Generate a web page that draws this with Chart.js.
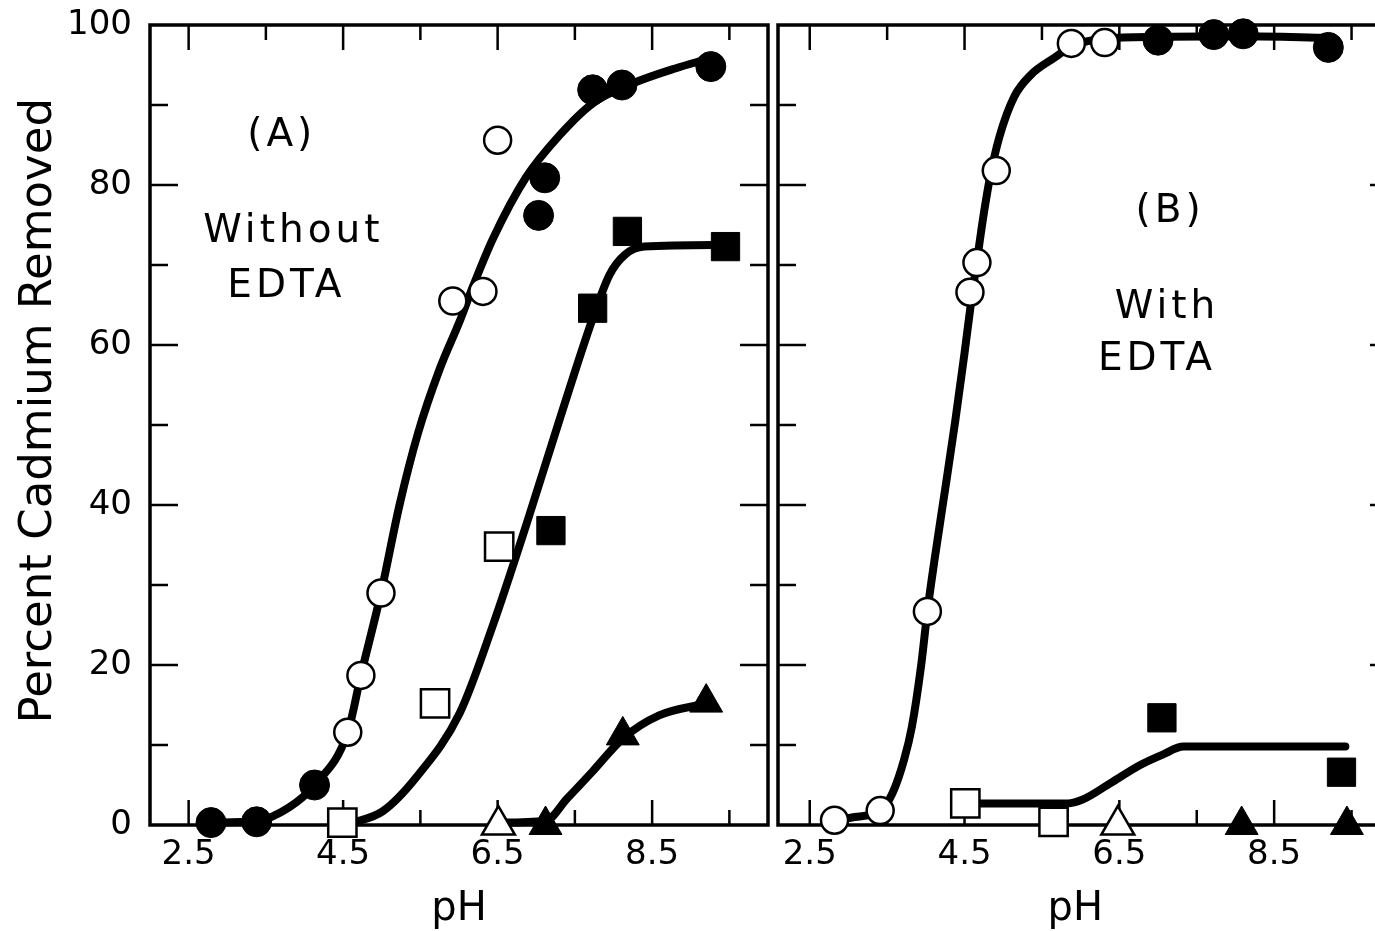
<!DOCTYPE html>
<html>
<head>
<meta charset="utf-8">
<title>Percent Cadmium Removed vs pH</title>
<script src="https://cdn.jsdelivr.net/npm/chart.js@4.4.1/dist/chart.umd.min.js"></script>
<style>
  html, body { margin: 0; padding: 0; background: #fff; overflow: hidden; }
  body { width: 1375px; height: 931px; position: relative; }
  canvas { position: absolute; top: 0; }
  #chartA { left: 0; }
  #chartB { left: 770px; }
</style>
</head>
<body>
<canvas id="chartA" width="775" height="931"></canvas>
<canvas id="chartB" width="640" height="931"></canvas>
<script>
// Axis ticks
const xTickLabels = [2.5, 4.5, 6.5, 8.5];
const xTickMarks = [2.5, 3.5, 4.5, 5.5, 6.5, 7.5, 8.5, 9.5];
const yTickLabels = [0, 20, 40, 60, 80, 100];
const yTickMarks = [10, 20, 30, 40, 50, 60, 70, 80, 90];

// Panel A - without EDTA (markers)
const phA_fillCircle = [2.79, 3.38, 4.13, 7.03, 7.11, 7.73, 8.11, 9.26];
const cdA_fillCircle = [0.3, 0.4, 5.0, 76.2, 80.9, 91.9, 92.5, 94.8];
const phA_openCircle = [4.56, 4.73, 4.99, 5.92, 6.31, 6.50];
const cdA_openCircle = [11.6, 18.7, 29.0, 65.5, 66.7, 85.6];
const phA_openSquare = [4.49, 5.69, 6.52];
const cdA_openSquare = [0.3, 15.2, 34.8];
const phA_fillSquare = [7.19, 7.73, 8.18, 9.45];
const cdA_fillSquare = [36.8, 64.6, 74.2, 72.3];
const phA_openTri = [6.51];
const cdA_openTri = [0];
const phA_fillTri = [7.12, 8.12, 9.20];
const cdA_fillTri = [0, 11.2, 15.3];

// Panel A - drawn curves
const phA_curve1 = [2.79, 3.38, 3.8, 4.13, 4.56, 4.73, 4.99, 5.23, 5.47, 5.75, 6.01, 6.18, 6.44, 6.87, 7.3, 7.73, 8.25, 8.81, 9.2];
const cdA_curve1 = [0.3, 0.5, 2.2, 5.0, 11.6, 18.7, 29.0, 40.0, 49.0, 57.0, 63.0, 67.3, 73.3, 81.0, 86.2, 90.2, 92.7, 94.6, 95.7];
const phA_curve2 = [4.6, 5.01, 5.45, 6.01, 6.44, 6.87, 7.28, 7.73, 7.95, 8.15, 8.4, 9.45];
const cdA_curve2 = [0.2, 1.7, 6.0, 14.0, 25.0, 37.5, 50.0, 63.3, 68.8, 71.3, 72.3, 72.5];
const phA_curve3 = [6.51, 7.12, 7.4, 7.73, 8.12, 8.59, 9.2];
const cdA_curve3 = [0.3, 0.5, 3.3, 6.7, 10.8, 13.7, 15.2];

// Panel B - with EDTA (markers)
const phB_openCircle = [2.82, 3.41, 4.02, 4.57, 4.66, 4.91, 5.88, 6.31];
const cdB_openCircle = [0.6, 1.8, 26.7, 66.6, 70.3, 81.8, 97.7, 97.8];
const phB_fillCircle = [7.0, 7.72, 8.1, 9.2];
const cdB_fillCircle = [98.1, 98.8, 98.9, 97.2];
const phB_openSquare = [4.51, 5.65];
const cdB_openSquare = [2.7, 0.4];
const phB_fillSquare = [7.05, 9.37];
const cdB_fillSquare = [13.4, 6.6];
const phB_openTri = [6.48];
const cdB_openTri = [0];
const phB_fillTri = [8.08, 9.44];
const cdB_fillTri = [0, 0];

// Panel B - drawn curves
const phB_curve1 = [2.82, 3.08, 3.41, 3.57, 3.72, 3.82, 3.94, 4.02, 4.11, 4.25, 4.38, 4.5, 4.58, 4.66, 4.75, 4.83, 4.95, 5.14, 5.36, 5.66, 5.88, 6.31, 7.0, 8.1, 9.2];
const cdB_curve1 = [0.6, 1.0, 1.8, 4.0, 8.2, 12.3, 20.0, 26.7, 33.0, 42.0, 50.5, 59.0, 65.0, 70.5, 76.5, 81.0, 86.0, 91.0, 93.8, 95.9, 97.3, 98.3, 98.5, 98.6, 98.4];
const phB_curve2 = [4.51, 5.83, 6.03, 6.38, 6.77, 7.06, 7.33, 9.42];
const cdB_curve2 = [2.7, 2.7, 3.2, 5.2, 7.5, 8.8, 9.8, 9.8];

const ink = '#000';
const fontFamily = '"DejaVu Sans", sans-serif';

// zip two arrays into {x, y} points
function pts(xs, ys) {
  return xs.map((x, i) => ({ x: x, y: ys[i] }));
}

function curve(xs, ys) {
  return {
    data: pts(xs, ys),
    showLine: true,
    pointRadius: 0,
    borderColor: ink,
    borderWidth: 8,
    borderCapStyle: 'round',
    borderJoinStyle: 'round',
    cubicInterpolationMode: 'monotone',
    clip: false,
    order: 2
  };
}

function marker(xs, ys, style, filled) {
  let r = filled ? 15 : 13.5;
  if (style === 'rect') r = 20;
  if (style === 'triangle') r = 19;
  return {
    data: pts(xs, ys),
    showLine: false,
    pointStyle: style,
    pointRadius: r,
    pointBackgroundColor: filled ? ink : '#fff',
    pointBorderColor: ink,
    pointBorderWidth: filled ? 1 : 2.5,
    clip: false,
    order: 1
  };
}

// frame with inward tick marks on all four sides
const framePlugin = {
  id: 'frame',
  beforeDatasetsDraw(chart) {
    const ctx = chart.ctx;
    const a = chart.chartArea;
    const x = chart.scales.x;
    const y = chart.scales.y;
    ctx.save();
    ctx.strokeStyle = ink;
    ctx.lineWidth = 2.5;
    ctx.beginPath();
    xTickMarks.forEach(v => {
      const px = x.getPixelForValue(v);
      if (px < a.left || px > a.right) return;
      const len = xTickLabels.includes(v) ? 25 : 15;
      ctx.moveTo(px, a.bottom); ctx.lineTo(px, a.bottom - len);
      ctx.moveTo(px, a.top); ctx.lineTo(px, a.top + len);
    });
    yTickMarks.forEach(v => {
      const py = y.getPixelForValue(v);
      const len = v % 20 === 0 ? 28 : 18;
      ctx.moveTo(a.left, py); ctx.lineTo(a.left + len, py);
      ctx.moveTo(a.right, py); ctx.lineTo(a.right - len, py);
    });
    ctx.stroke();
    ctx.lineWidth = 3.5;
    ctx.strokeRect(a.left, a.top, a.right - a.left, a.bottom - a.top);
    ctx.restore();
  }
};

// panel captions placed in data coordinates
const notesPlugin = {
  id: 'notes',
  afterDatasetsDraw(chart, args, opts) {
    const ctx = chart.ctx;
    ctx.save();
    ctx.fillStyle = ink;
    ctx.font = '39px ' + fontFamily;
    ctx.textAlign = 'center';
    ctx.textBaseline = 'middle';
    ctx.letterSpacing = '4px';
    opts.items.forEach(n => {
      ctx.fillText(n.text, chart.scales.x.getPixelForValue(n.x) + 2, chart.scales.y.getPixelForValue(n.y));
    });
    ctx.restore();
  }
};

// drop the automatic label padding so the plot box sits where the figure has it
function noPadding(s) {
  s.paddingTop = 0;
  s.paddingBottom = 0;
  s.paddingLeft = 0;
  s.paddingRight = 0;
}

function makeOptions(xMin, xMax, showY, pad, xTitle, notes) {
  return {
    responsive: false,
    animation: false,
    events: [],
    layout: { padding: pad, autoPadding: false },
    plugins: {
      legend: { display: false },
      tooltip: { enabled: false },
      notes: { items: notes }
    },
    scales: {
      x: {
        type: 'linear',
        min: xMin,
        max: xMax,
        grid: { display: false, drawTicks: false },
        border: { display: false },
        afterBuildTicks: s => { s.ticks = xTickLabels.map(v => ({ value: v })); },
        afterFit: s => { s.height = 106; noPadding(s); },
        ticks: {
          color: ink,
          padding: 10,
          font: { family: fontFamily, size: 34 },
          callback: v => Number(v).toFixed(1)
        },
        title: {
          display: true,
          text: xTitle,
          color: ink,
          font: { family: fontFamily, size: 40, lineHeight: 1 },
          padding: { top: 0, bottom: 1 }
        }
      },
      y: {
        type: 'linear',
        display: showY,
        min: 0,
        max: 100,
        grid: { display: false, drawTicks: false },
        border: { display: false },
        afterBuildTicks: s => { s.ticks = yTickLabels.map(v => ({ value: v })); },
        afterFit: s => { s.width = showY ? 150 : 0; noPadding(s); },
        ticks: {
          color: ink,
          padding: 18,
          font: { family: fontFamily, size: 34 }
        },
        title: {
          display: true,
          text: '  Percent Cadmium Removed',
          color: ink,
          font: { family: fontFamily, size: 45, lineHeight: 1 },
          padding: { top: 17, bottom: 0 }
        }
      }
    }
  };
}

const chartA = new Chart(document.getElementById('chartA'), {
  type: 'scatter',
  data: {
    datasets: [
      curve(phA_curve1, cdA_curve1),
      curve(phA_curve2, cdA_curve2),
      curve(phA_curve3, cdA_curve3),
      marker(phA_fillCircle, cdA_fillCircle, 'circle', true),
      marker(phA_openCircle, cdA_openCircle, 'circle', false),
      marker(phA_openSquare, cdA_openSquare, 'rect', false),
      marker(phA_fillSquare, cdA_fillSquare, 'rect', true),
      marker(phA_openTri, cdA_openTri, 'triangle', false),
      marker(phA_fillTri, cdA_fillTri, 'triangle', true)
    ]
  },
  options: makeOptions(2, 10, true, { top: 25, right: 7, left: 0, bottom: 0 }, 'pH', [
    { text: '(A)', x: 3.68, y: 86.2 },
    { text: 'Without', x: 3.83, y: 74.2 },
    { text: 'EDTA', x: 3.74, y: 67.3 }
  ]),
  plugins: [framePlugin, notesPlugin]
});

// panel B runs past the right edge of the page, so its axis title is nudged left
const chartB = new Chart(document.getElementById('chartB'), {
  type: 'scatter',
  data: {
    datasets: [
      curve(phB_curve1, cdB_curve1),
      curve(phB_curve2, cdB_curve2),
      marker(phB_openCircle, cdB_openCircle, 'circle', false),
      marker(phB_fillCircle, cdB_fillCircle, 'circle', true),
      marker(phB_openSquare, cdB_openSquare, 'rect', false),
      marker(phB_fillSquare, cdB_fillSquare, 'rect', true),
      marker(phB_openTri, cdB_openTri, 'triangle', false),
      marker(phB_fillTri, cdB_fillTri, 'triangle', true)
    ]
  },
  options: makeOptions(2.09, 10.1, false, { top: 25, right: 12, left: 8, bottom: 0 }, 'pH  ', [
    { text: '(B)', x: 7.13, y: 76.6 },
    { text: 'With', x: 7.09, y: 64.7 },
    { text: 'EDTA', x: 6.96, y: 58.1 }
  ]),
  plugins: [framePlugin, notesPlugin]
});
</script>
</body>
</html>
